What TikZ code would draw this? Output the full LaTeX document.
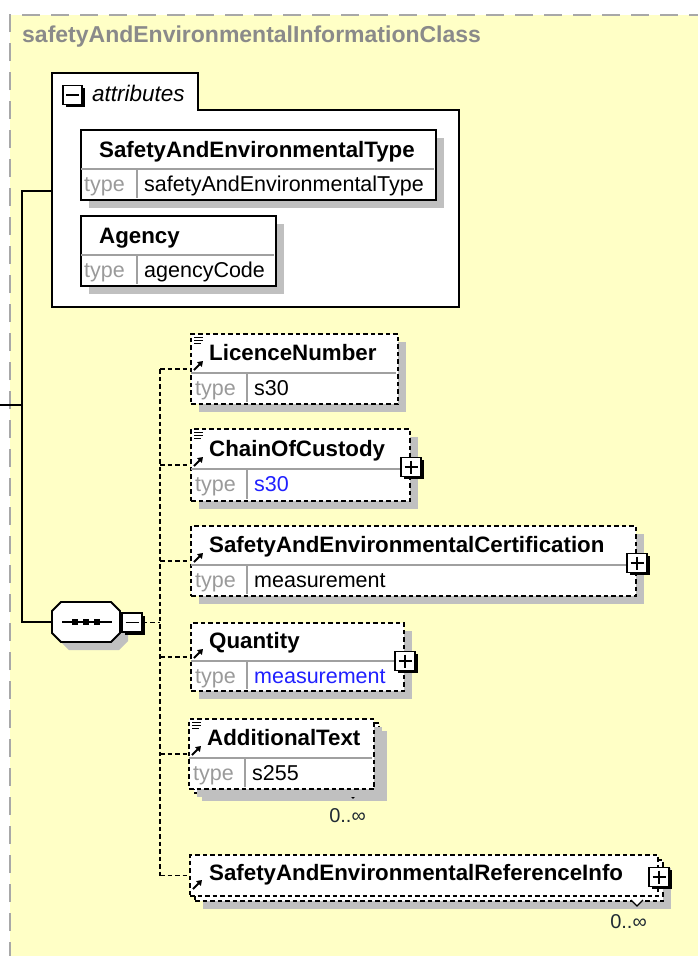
\documentclass[tikz,border=0pt]{standalone}
\usepackage{fontspec}
\setmainfont{Liberation Sans}
\usetikzlibrary{shadows,calc,arrows.meta}
\definecolor{bgy}{HTML}{FFFFC6}
\definecolor{bordergray}{HTML}{A8A8A8}
\definecolor{shadowc}{HTML}{C0C0C0}
\definecolor{divgray}{HTML}{A0A0A0}
\definecolor{typegray}{HTML}{9A9A9A}
\definecolor{titlegray}{HTML}{8A8A8A}
\definecolor{valblue}{HTML}{2020FF}
\definecolor{multc}{HTML}{202A34}
\tikzset{
 shadowed/.style={drop shadow={shadow xshift=8pt, shadow yshift=-8pt, fill=shadowc, opacity=1}},
 elbox/.style={rectangle, draw=black, fill=white, line width=2pt, dash pattern=on 4.5pt off 3pt, inner sep=0pt, anchor=north west},
 attrbox/.style={rectangle, draw=black, fill=white, line width=2.2pt, inner sep=0pt, anchor=north west, shadowed},
 nametxt/.style={font=\fontsize{22.3}{26}\selectfont\bfseries, inner sep=0pt, anchor=base west},
 typetxt/.style={font=\fontsize{21.5}{26}\selectfont, text=typegray, inner sep=0pt, anchor=base west},
 valtxt/.style={font=\fontsize{21.5}{26}\selectfont, inner sep=0pt, anchor=base west},
 multtxt/.style={font=\fontsize{20}{24}\selectfont, text=multc, inner sep=0pt, anchor=base east},
 conn/.style={line width=1.8pt, dash pattern=on 4.5pt off 3pt},
 wire/.style={line width=2pt},
 pmbox/.style={rectangle, draw=black, fill=white, line width=1.8pt, minimum width=20pt, minimum height=19pt, inner sep=0pt, drop shadow={shadow xshift=2.5pt, shadow yshift=-2.5pt, fill=black, opacity=1}},
 divline/.style={draw=divgray, line width=1.4pt},
}
\newcommand{\refarrow}[2]{\draw[line width=2pt, -{Triangle[length=5pt,width=6.5pt]}] (#1+4,#2) -- (#1+13,#2-9);}
\newcommand{\docicon}[2]{\draw[line width=1pt] (#1+4,#2+4) -- ++(9,0) (#1+4,#2+7) -- ++(9,0) (#1+4,#2+10) -- ++(7,0);}
\newcommand{\plusin}[1]{\draw[line width=1.8pt] ($(#1.center)+(-6.5,0)$) -- ($(#1.center)+(6.5,0)$) ($(#1.center)+(0,-6.5)$) -- ($(#1.center)+(0,6.5)$);}
\newcommand{\minusin}[1]{\draw[line width=1.8pt] ($(#1.center)+(-6.5,0)$) -- ($(#1.center)+(6.5,0)$);}
% #1 id, #2 x, #3 y, #4 w, #5 h, #6 name-row height, #7 name, #8 value
\newcommand{\typedel}[8]{%
 \node[elbox, shadowed, minimum width=#4pt, minimum height=#5pt] (#1) at (#2,#3) {};
 \draw[divline] (#2+1,#3+#6) -- (#2+#4-1,#3+#6);
 \draw[divline] (#2+57,#3+#6) -- (#2+57,#3+#5-1);
 \node[nametxt] (#1n) at (#2+19,#3+#6-13) {#7};
 \node[typetxt] (#1t) at (#2+5,#3+#6+22) {type};
 \node[valtxt] (#1v) at (#2+64,#3+#6+22) {#8};
 \refarrow{#2}{#3+#6-3}
}
\begin{document}
\begin{tikzpicture}[x=1pt,y=-1pt]
\useasboundingbox (0,0) rectangle (698,956);
\fill[white] (0,0) rectangle (698,956);
\fill[bgy] (10,15) rectangle (700,960);
\draw[bordergray, line width=2.5pt, dash pattern=on 18pt off 11pt] (10,960) -- (10,15) -- (700,15);

% title
\node[font=\fontsize{23}{26}\selectfont\bfseries, text=titlegray, anchor=base west, inner sep=0pt] (title) at (22,42) {safetyAndEnvironmentalInformationClass};

% attributes container
\draw[line width=1.8pt, fill=white] (52,73) -- (198,73) -- (198,110) -- (459,110) -- (459,307) -- (52,307) -- cycle;
\coordinate (attrL) at (52,191);
\node[pmbox, minimum width=19pt, minimum height=19pt] (am) at (72.5,95) {};
\minusin{am}
\node[font=\fontsize{22.5}{26}\selectfont\itshape, anchor=base west, inner sep=0pt] (attrlbl) at (92,101) {attributes};

% attribute 1
\node[attrbox, minimum width=355pt, minimum height=70pt] (a1) at (80,129) {};
\draw[divline] (81,169) -- (434,169);
\draw[divline] (137,169) -- (137,198);
\node[nametxt] (a1n) at (99,157) {SafetyAndEnvironmentalType};
\node[typetxt] (a1t) at (84,191) {type};
\node[valtxt] (a1v) at (144,191) {safetyAndEnvironmentalType};

% attribute 2
\node[attrbox, minimum width=195pt, minimum height=70pt] (a2) at (80,215) {};
\draw[divline] (81,255) -- (274,255);
\draw[divline] (137,255) -- (137,284);
\node[nametxt] (a2n) at (99,243) {Agency};
\node[typetxt] (a2t) at (84,277) {type};
\node[valtxt] (a2v) at (144,277) {agencyCode};

% sequence compositor
\fill[shadowc] (69,610) -- (119,610) -- (128,619) -- (128,641) -- (119,650) -- (69,650) -- (60,641) -- (60,619) -- cycle;
\draw[fill=white, line width=1.8pt] (61,602) -- (111,602) -- (120,611) -- (120,633) -- (111,642) -- (61,642) -- (52,633) -- (52,611) -- cycle;
\node[minimum width=68pt, minimum height=40pt, inner sep=0pt] (seq) at (86,622) {};
\draw[line width=1.8pt] (62,622) -- (112,622);
\fill (72,619) rectangle ++(6,6);
\fill (83,619) rectangle ++(6,6);
\fill (94,619) rectangle ++(6,6);
\node[pmbox] (seqm) at (132,622.5) {};
\minusin{seqm}

% solid wires
\coordinate (in) at (0,405);
\coordinate (jn) at (22,405);
\draw[wire] (in) -- (jn);
\draw[wire] (attrL) -| (jn |- seq.west) -- (seq.west);

% elements
\typedel{e1}{190}{333}{207}{70}{40}{LicenceNumber}{s30}
\docicon{190}{333}
\typedel{e2}{190}{428}{219}{72}{41}{ChainOfCustody}{\textcolor{valblue}{s30}}
\docicon{190}{428}
\node[pmbox] (e2p) at ($(e2.east)+(0,2)$) {};
\plusin{e2p}
\typedel{e3}{190}{525}{445}{70}{40}{SafetyAndEnvironmentalCertification}{measurement}
\node[pmbox] (e3p) at ($(e3.east)+(0,2)$) {};
\plusin{e3p}
\typedel{e4}{190}{622}{213}{68}{39}{Quantity}{\textcolor{valblue}{measurement}}
\node[pmbox] (e4p) at ($(e4.east)+(0,4)$) {};
\plusin{e4p}

% AdditionalText (repeated)
\node[elbox, shadowed, minimum width=185pt, minimum height=70pt] (e5b) at (193,722) {};
\draw[line width=1.2pt, fill=white] (347,792) -- (353,798) -- (359,792);
\typedel{e5}{188}{718}{185}{70}{40}{AdditionalText}{s255}
\docicon{188}{718}
\node[multtxt] (e5m) at (366,822) {0..∞};

% SafetyAndEnvironmentalReferenceInfo (repeated)
\node[elbox, shadowed, minimum width=468pt, minimum height=41pt] (e6b) at (194,859) {};
\draw[line width=1.2pt, fill=white] (631,900) -- (637,906) -- (643,900);
\node[elbox, minimum width=468pt, minimum height=41pt] (e6) at (189,854) {};
\node[nametxt] (e6n) at (209,880) {SafetyAndEnvironmentalReferenceInfo};
\refarrow{189}{889}
\node[pmbox] (e6p) at ($(e6.east)+(0,1.5)$) {};
\plusin{e6p}
\node[multtxt] (e6m) at (647,928) {0..∞};

% dashed connectors
\coordinate (sp) at (160,622.5);
\draw[conn] (seqm.east) -- (sp);
\draw[conn] (sp |- e1.west) -- (sp |- e6.west);
\draw[conn] (sp |- e1.west) -- (e1.west);
\draw[conn] (sp |- e2.west) -- (e2.west);
\draw[conn] (sp |- e3.west) -- (e3.west);
\draw[conn] (sp |- e4.west) -- (e4.west);
\draw[conn] (sp |- e5.west) -- (e5.west);
\draw[conn] (sp |- e6.west) -- (e6.west);
\end{tikzpicture}
\end{document}
